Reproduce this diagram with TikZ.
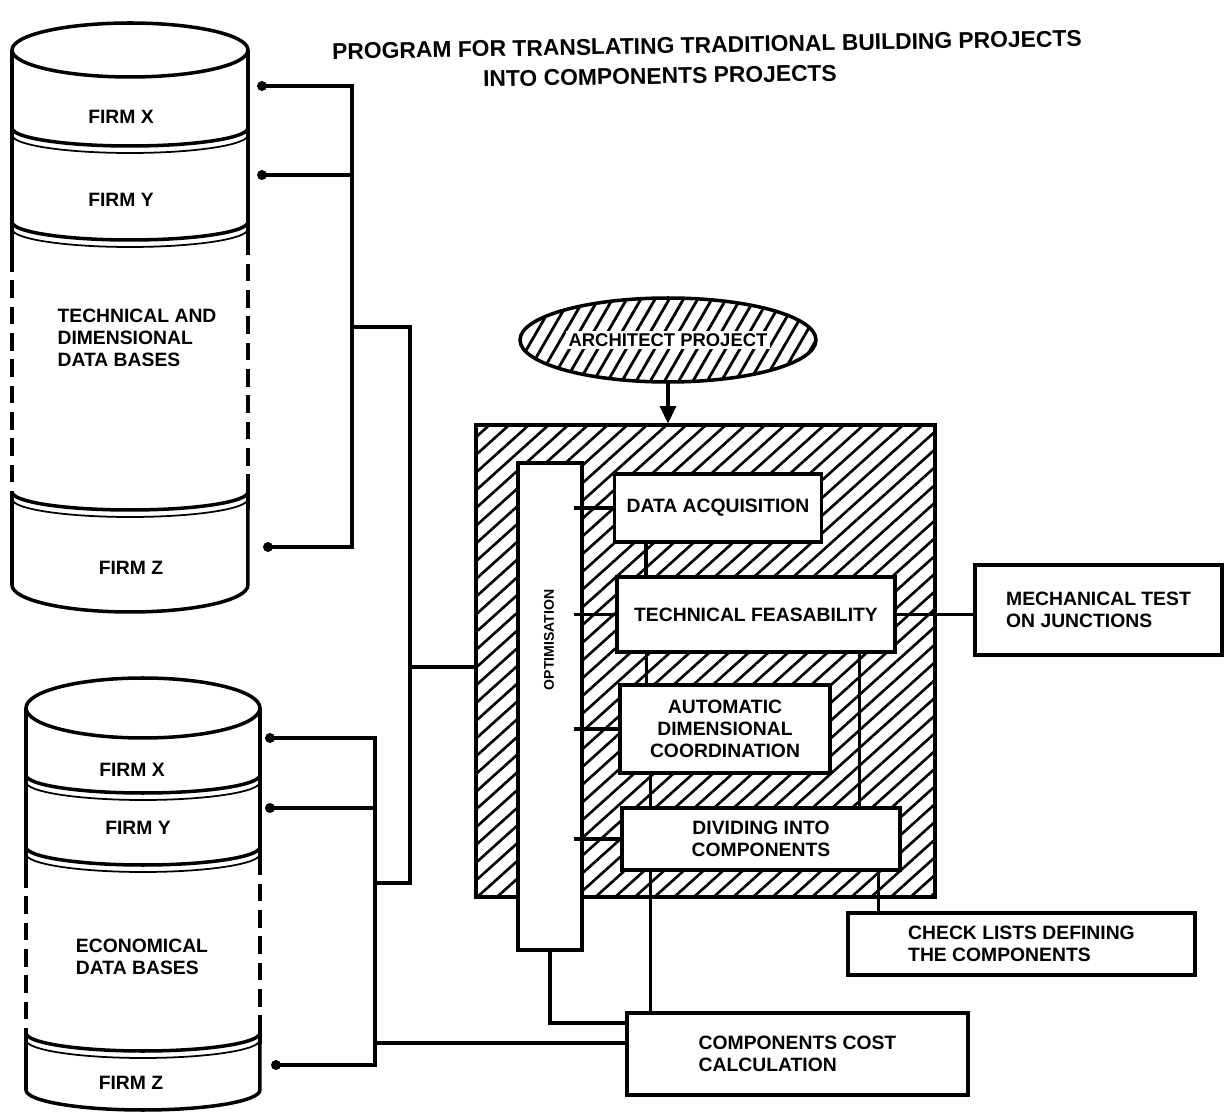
\documentclass[tikz,border=0pt]{standalone}
\usepackage{fontspec}
\setmainfont{Liberation Sans}
\usetikzlibrary{arrows.meta,patterns.meta,shapes.geometric}
\newcommand{\boxfont}{\bfseries\fontsize{11}{12.5}\selectfont}
\tikzset{
  box/.style={draw,line width=2pt,fill=white,align=left,font=\boxfont},
  txt/.style={align=left,font=\boxfont,inner sep=0pt},
  wire/.style={line width=2pt},
  cyl/.style={line width=2pt},
  brokenside/.style={line width=2pt,dash pattern=on 10pt off 5pt},
  hatched/.style={pattern={Lines[angle=42,distance=7.5pt,line width=1.5pt]}},
}

\begin{document}
\begin{tikzpicture}[x=0.02cm,y=-0.02cm]
    \useasboundingbox (0,0) rectangle (1225,1114);
    % Title
    \node[font=\bfseries\fontsize{13}{15}\selectfont,rotate=1] (title1) at (707,45) {PROGRAM FOR TRANSLATING TRADITIONAL BUILDING PROJECTS};
    \node[font=\bfseries\fontsize{13}{15}\selectfont,rotate=1] (title2) at (660,76) {INTO COMPONENTS PROJECTS};
    % Technical and dimensional data bases
    \draw[cyl] (130,50) ellipse [x radius=2.36cm,y radius=0.54cm];
    \draw[cyl] (12,50) -- (12,254);
    \draw[brokenside] (12,254) -- (12,492);
    \draw[cyl] (12,492) -- (12,585) arc[start angle=180,end angle=360,x radius=2.36cm,y radius=0.54cm] -- (248,492);
    \draw[brokenside] (248,492) -- (248,254);
    \draw[cyl] (248,254) -- (248,50);
    \foreach \y in {128,222,492} {
      \draw[cyl] (12,\y) arc[start angle=180,end angle=360,x radius=2.36cm,y radius=0.36cm];
      \draw[line width=1pt] (12,\y+7) arc[start angle=180,end angle=360,x radius=2.36cm,y radius=0.36cm];
    }
    \node[txt] (c1x) at (121,117) {FIRM X};
    \node[txt] (c1y) at (121,200) {FIRM Y};
    \node[txt] (c1t) at (137,338) {TECHNICAL AND\\DIMENSIONAL\\DATA BASES};
    \node[txt] (c1z) at (131,568) {FIRM Z};
    % Economical data bases
    \draw[cyl] (143,708) ellipse [x radius=2.34cm,y radius=0.6cm];
    \draw[cyl] (26,708) -- (26,870);
    \draw[brokenside] (26,870) -- (26,1033);
    \draw[cyl] (26,1033) -- (26,1090) arc[start angle=180,end angle=360,x radius=2.34cm,y radius=0.4cm] -- (260,1033);
    \draw[brokenside] (260,1033) -- (260,870);
    \draw[cyl] (260,870) -- (260,708);
    \foreach \y in {775,847,1033} {
      \draw[cyl] (26,\y) arc[start angle=180,end angle=360,x radius=2.34cm,y radius=0.36cm];
      \draw[line width=1pt] (26,\y+7) arc[start angle=180,end angle=360,x radius=2.34cm,y radius=0.36cm];
    }
    \node[txt] (c2x) at (132,770) {FIRM X};
    \node[txt] (c2y) at (138,828) {FIRM Y};
    \node[txt] (c2t) at (142,957) {ECONOMICAL\\DATA BASES};
    \node[txt] (c2z) at (131,1083) {FIRM Z};
    % Program frame
    \node[draw,line width=2pt,hatched,minimum width=9.18cm,minimum height=9.44cm] (frame) at (705.5,661) {};
    \node[draw,line width=2pt,fill=white,minimum width=1.28cm,minimum height=9.74cm] (opt) at (550,706.5) {};
    \node[rotate=90,font=\bfseries\fontsize{8}{9}\selectfont] (optlabel) at (549,640) {OPTIMISATION};
    \node[box,align=center,minimum width=4.14cm,minimum height=1.36cm] (da) at (718,508) {DATA ACQUISITION};
    \node[box,align=center,minimum width=5.56cm,minimum height=1.5cm] (tf) at (756,614.5) {TECHNICAL FEASABILITY};
    \node[box,align=center,minimum width=4.2cm,minimum height=1.76cm] (adc) at (725,729) {AUTOMATIC\\DIMENSIONAL\\COORDINATION};
    \node[box,align=center,minimum width=5.56cm,minimum height=1.24cm] (div) at (761,839) {DIVIDING INTO\\COMPONENTS};
    % Architect project
    \node[ellipse,draw,line width=2pt,pattern={Lines[angle=60,distance=7pt,line width=1.6pt]},minimum width=5.92cm,minimum height=1.68cm] (arch) at (668,340) {};
    \node[fill=white,font=\bfseries\fontsize{10.5}{12}\selectfont,inner sep=1.5pt] (archlabel) at (arch) {ARCHITECT PROJECT};
    \draw[wire,-{Triangle[length=10pt,width=9pt]}] (arch.south) -- (arch.south |- frame.north);
    % Results
    \node[box,minimum width=4.94cm,minimum height=1.8cm] (mech) at (1098.5,610) {MECHANICAL TEST\\ON JUNCTIONS};
    \node[box,minimum width=6.94cm,minimum height=1.24cm] (check) at (1021.5,944) {CHECK LISTS DEFINING\\THE COMPONENTS};
    \node[box,minimum width=6.82cm,minimum height=1.64cm] (cost) at (797.5,1054) {COMPONENTS COST\\CALCULATION};
    % Links inside the frame
    \foreach \b in {da,tf,adc,div}
      \draw[wire] (opt.east |- \b.west) ++(-0.2cm,0) -- (\b.west);
    \coordinate (v1) at ([xshift=0.66cm]da.south west);
    \coordinate (v2) at ([xshift=0.62cm]tf.south west);
    \coordinate (v3) at ([xshift=0.64cm]adc.south west);
    \coordinate (v4) at ([xshift=-0.74cm]tf.south east);
    \coordinate (v5) at ([xshift=0.6cm]div.south west);
    \coordinate (v6) at ([xshift=-0.46cm]div.south east);
    \draw[wire] (v1) -- (v1 |- tf.north);
    \draw[wire] (v2) -- (v2 |- adc.north);
    \draw[wire] (v3) -- (v3 |- div.north);
    \draw[wire] (v4) -- (v4 |- div.north);
    \draw[wire] (v5) -- (v5 |- cost.north);
    \draw[wire] (v6) -- (v6 |- check.north);
    \draw[wire] (tf.east) -- (tf.east -| mech.west);
    % Data base buses
    \coordinate (d1) at (262,86);
    \coordinate (d2) at (262,175);
    \coordinate (d3) at (268,547);
    \coordinate (b1) at (352,86);
    \coordinate (b2) at (352,327);
    \coordinate (b3) at (352,547);
    \coordinate (r1) at (410,327);
    \coordinate (r2) at (410,667);
    \coordinate (r3) at (410,883);
    \coordinate (e1) at (270,738);
    \coordinate (e2) at (270,808);
    \coordinate (e3) at (276,1065);
    \coordinate (f1) at (375,738);
    \coordinate (f2) at (375,1043);
    \coordinate (f3) at (375,1065);
    \coordinate (k1) at (627,1023);
    \draw[wire] (d1) -- (b1) -- (b3) -- (d3);
    \draw[wire] (d2) -- (d2 -| b1);
    \draw[wire] (b2) -- (r1) -- (r3) -- (r3 -| f1);
    \draw[wire] (r2) -- (r2 -| frame.west);
    \draw[wire] (e1) -- (f1) -- (f3) -- (e3);
    \draw[wire] (e2) -- (e2 -| f1);
    \draw[wire] (f2) -- (f2 -| cost.west);
    \draw[wire] (opt.south) |- (k1 -| cost.west);
    \foreach \p in {d1,d2,d3,e1,e2,e3} \fill (\p) circle (0.1cm);
\end{tikzpicture}
\end{document}
